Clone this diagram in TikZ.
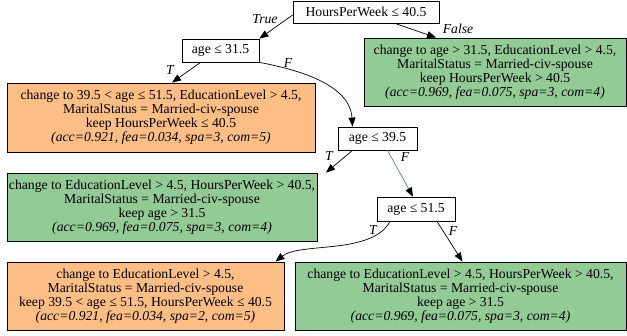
\documentclass[tikz,border=0pt]{standalone}
\usepackage{fontspec}
\setmainfont{Liberation Serif}
\usetikzlibrary{arrows.meta}
\definecolor{gfill}{RGB}{147,203,150}
\definecolor{ofill}{RGB}{253,190,134}
\definecolor{gedge}{RGB}{100,150,100}
\begin{document}
\begin{tikzpicture}[x=1pt,y=-1pt,
  txt/.style={font=\fontsize{13.7}{14}\selectfont},
  split/.style={draw=black,line width=0.8pt,fill=white,inner sep=0pt,txt},
  leafg/.style={draw=black,line width=0.8pt,fill=gfill,inner sep=0pt,align=center,txt},
  leafo/.style={draw=black,line width=0.8pt,fill=ofill,inner sep=0pt,align=center,txt},
  edge/.style={line width=0.7pt,-{Triangle[length=9pt,width=7pt]}},
  lab/.style={font=\fontsize{13.7}{14}\selectfont\itshape,inner sep=0pt}]
\useasboundingbox (0,0) rectangle (627,335);
\node[split,minimum width=146pt,minimum height=22pt] (root) at (366,12) {HoursPerWeek ≤ 40.5};
\node[split,minimum width=77pt,minimum height=23pt] (a315) at (220.5,50.5) {age ≤ 31.5};
\node[leafo,minimum width=308pt,minimum height=69pt] (o1) at (161,117.5) {change to 39.5 < age ≤ 51.5, EducationLevel > 4.5,\\MaritalStatus = Married-civ-spouse\\keep HoursPerWeek ≤ 40.5\\\textit{(acc=0.921, fea=0.034, spa=3, com=5)}};
\node[leafg,minimum width=262pt,minimum height=68pt] (g1) at (495,72) {change to age > 31.5, EducationLevel > 4.5,\\MaritalStatus = Married-civ-spouse\\keep HoursPerWeek > 40.5\\\textit{(acc=0.969, fea=0.075, spa=3, com=4)}};
\node[split,minimum width=79pt,minimum height=23pt] (a395) at (377.5,138.5) {age ≤ 39.5};
\node[leafg,minimum width=310pt,minimum height=68pt] (g2) at (162,207) {change to EducationLevel > 4.5, HoursPerWeek > 40.5,\\MaritalStatus = Married-civ-spouse\\keep age > 31.5\\\textit{(acc=0.969, fea=0.075, spa=3, com=4)}};
\node[split,minimum width=78pt,minimum height=24pt] (a515) at (416,209) {age ≤ 51.5};
\node[leafo,minimum width=277pt,minimum height=68pt] (o2) at (145.5,296) {change to EducationLevel > 4.5,\\MaritalStatus = Married-civ-spouse\\keep 39.5 < age ≤ 51.5, HoursPerWeek ≤ 40.5\\\textit{(acc=0.921, fea=0.034, spa=2, com=5)}};
\node[leafg,minimum width=331pt,minimum height=68pt] (g3) at (460.5,296) {change to EducationLevel > 4.5, HoursPerWeek > 40.5,\\MaritalStatus = Married-civ-spouse\\keep age > 31.5\\\textit{(acc=0.969, fea=0.075, spa=3, com=4)}};
% edges
\draw[edge] (root.west |- 0,15) -- (a315.north east);
\node[lab] at (265,19) {True};
\draw[edge] ([xshift=29pt]root.south) -- ([xshift=-59pt]g1.north);
\node[lab] at (458,29) {False};
\draw[edge] ([xshift=-20pt]a315.south) -- ([xshift=11pt]o1.north);
\node[lab] at (170,70) {T};
\draw[edge] (a315.south east) .. controls (300,70) and (350,85) .. ([xshift=-25pt]a395.north);
\node[lab] at (288,63) {F};
\draw[edge] ([xshift=-25pt]a395.south) -- ([xshift=164pt]g2.north);
\node[lab] at (329,156) {T};
\draw[line width=0.8pt,gedge,-{Triangle[length=9pt,width=7pt,black]}] ([xshift=10pt]a395.south) -- ([xshift=-3pt]a515.north);
\node[lab] at (405,157) {F};
\draw[edge] ([xshift=-26pt]a515.south) .. controls (372,255) and (300,242) .. ([xshift=130pt]o2.north);
\node[lab] at (373,230) {T};
\draw[edge] ([xshift=21pt]a515.south) -- ([xshift=2pt]g3.north);
\node[lab] at (453,231) {F};
\end{tikzpicture}
\end{document}
